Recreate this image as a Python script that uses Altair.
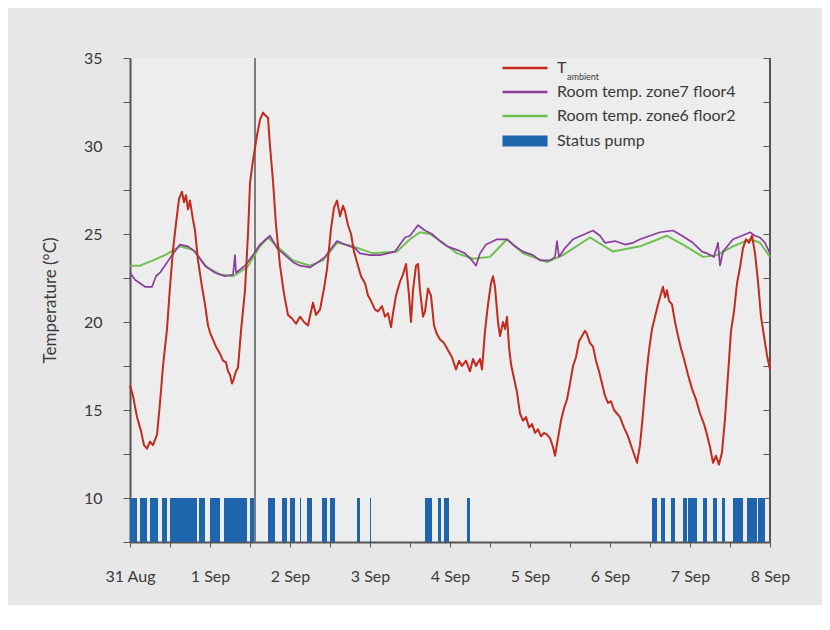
import altair as alt
import pandas as pd

BASE = pd.Timestamp("2012-08-31 00:00")
END = pd.Timestamp("2012-09-08 00:00")

# hours since 31 Aug 00:00 and temperature (°C)
amb_h = [0.0, 0.9, 2.1, 3.3, 4.2, 5.1, 6.0, 6.9, 8.1, 9.0, 9.9, 11.1, 12.0, 12.9, 13.8, 14.7, 15.6, 16.2,
         16.8, 17.4, 18.0, 18.9, 19.5, 20.4, 21.6, 22.5, 23.4, 24.0, 24.9, 25.8, 27.0, 27.9, 28.8, 29.4,
         30.0, 30.6, 31.2, 31.8, 32.4, 33.3, 34.5, 35.4, 36.0, 36.9, 38.1, 39.0, 39.9, 40.8, 41.4, 42.0,
         42.9, 43.8, 45.0, 46.2, 47.4, 48.6, 49.8, 51.0, 52.2, 53.4, 54.3, 54.9, 55.8, 57.0, 58.2, 59.1,
         60.3, 61.2, 62.1, 63.0, 63.9, 64.5, 65.4, 66.3, 67.2, 68.1, 69.3, 70.5, 71.4, 72.3, 73.5, 74.4,
         75.6, 76.5, 77.4, 78.3, 78.9, 79.8, 81.0, 81.9, 82.8, 83.7, 84.3, 84.9, 85.8, 86.4, 87.0, 87.9,
         88.5, 89.4, 90.3, 91.2, 92.1, 93.0, 94.2, 95.4, 96.6, 97.8, 98.7, 99.6, 100.8, 102.0, 102.9,
         103.8, 105.0, 105.6, 106.5, 107.4, 108.3, 108.9, 109.5, 110.4, 111.0, 111.9, 112.5, 113.1, 113.7,
         114.3, 115.2, 116.1, 117.0, 117.9, 118.8, 119.7, 120.6, 121.5, 122.4, 123.3, 124.2, 125.1, 126.0,
         126.9, 127.5, 128.4, 129.3, 130.2, 131.1, 132.0, 132.9, 133.8, 134.7, 135.6, 136.5, 137.1, 138.0,
         138.9, 139.8, 140.7, 141.6, 142.5, 143.4, 144.3, 145.2, 146.1, 147.0, 148.2, 149.4, 150.3, 151.2,
         152.1, 153.0, 153.9, 154.8, 155.7, 156.6, 157.5, 158.4, 159.3, 159.9, 160.5, 161.1, 161.7, 162.6,
         163.5, 164.4, 165.3, 166.2, 167.4, 168.6, 169.8, 171.0, 172.2, 173.1, 174.0, 174.9, 175.8, 176.7,
         177.6, 178.5, 179.4, 180.3, 181.2, 182.1, 183.0, 183.9, 184.8, 185.7, 186.6, 187.5, 188.4, 189.3,
         190.2, 191.1, 192.0]
amb_t = [16.4, 15.8, 14.6, 13.8, 13.0, 12.8, 13.2, 13.0, 13.6, 15.4, 17.5, 19.6, 22.0, 24.1, 25.6, 27.0, 27.4, 26.8,
         27.2, 26.4, 26.9, 25.8, 25.2, 23.5, 22.0, 21.0, 19.8, 19.4, 19.0, 18.6, 18.2, 17.8, 17.7, 17.2,
         17.0, 16.5, 16.8, 17.2, 17.4, 19.5, 21.8, 25.0, 27.9, 29.2, 30.6, 31.5, 31.9, 31.7, 31.6, 30.0,
         28.0, 25.5, 23.2, 21.6, 20.4, 20.2, 19.9, 20.3, 20.0, 19.8, 20.6, 21.1, 20.4, 20.7, 21.9, 23.0,
         25.3, 26.5, 26.9, 26.0, 26.6, 26.3, 25.5, 25.0, 24.0, 23.4, 22.6, 22.2, 21.5, 21.2, 20.7, 20.6,
         20.9, 20.3, 20.5, 19.7, 20.5, 21.5, 22.3, 22.7, 23.3, 21.5, 20.0, 21.8, 23.2, 23.3, 21.8, 20.3,
         20.6, 21.9, 21.5, 19.8, 19.3, 19.0, 18.8, 18.4, 18.0, 17.3, 17.8, 17.5, 17.8, 17.2, 17.9,
         17.5, 17.9, 17.3, 19.5, 21.0, 22.2, 22.6, 22.0, 20.0, 19.2, 20.0, 19.6, 20.3, 18.6,
         17.6, 16.8, 16.0, 14.8, 14.4, 14.6, 14.0, 14.2, 13.7, 13.9, 13.5, 13.7, 13.6, 13.4,
         12.9, 12.4, 13.4, 14.4, 15.1, 15.6, 16.5, 17.5, 18.0, 18.9, 19.2, 19.5, 19.3, 18.8,
         18.6, 17.8, 17.2, 16.5, 15.8, 15.4, 15.5, 15.0, 14.8, 14.6, 14.0, 13.5, 13.0, 12.5,
         12.0, 13.0, 14.8, 16.8, 18.4, 19.6, 20.3, 21.0, 21.6, 22.0, 21.4, 21.8, 21.2, 21.0,
         20.0, 19.2, 18.5, 17.9, 17.0, 16.2, 15.6, 14.8, 14.2, 13.6, 12.9, 12.0, 12.4, 11.9,
         12.6, 14.5, 17.0, 19.5, 20.6, 22.2, 23.1, 24.2, 24.7, 24.5, 24.9, 23.9, 22.3, 20.3,
         19.2, 18.1, 17.3]

z7_h = [0, 1.5, 3, 4.5, 6.6, 7.8, 9, 10.8, 12.6, 15, 17.4, 19.5, 22.5, 25.5, 28.5, 30.9, 31.5, 31.8, 34.5,
        36.9, 39, 42, 44.1, 46.5, 48.9, 51, 54, 56.4, 58.5, 62.1, 64.5, 67.5, 69, 72, 75, 79.5, 82.5, 84,
        86.4, 88.5, 90.6, 93, 95.1, 98.1, 100.5, 102.6, 103.8, 105, 106.8, 108, 110.1, 113.1, 115.5, 117.9,
        120.9, 123, 126, 127.5, 128.1, 128.7, 130.5, 132.9, 136.5, 138.9, 141, 142.5, 145.5, 148.5, 150.9,
        153, 156, 159, 162.9, 165.6, 168.9, 171.6, 173.1, 175.2, 176.4, 177, 177.9, 180.9, 183.6, 186,
        187.5, 189, 190.5, 192]
z7_t = [22.8, 22.4, 22.2, 22.0, 22.0, 22.6, 22.8, 23.3, 23.8, 24.4, 24.3, 24.0, 23.2, 22.8, 22.6, 22.7, 23.8, 22.8, 23.2,
        23.8, 24.4, 24.9, 24.2, 23.8, 23.4, 23.2, 23.1, 23.4, 23.7, 24.6, 24.4, 24.2, 23.9, 23.8, 23.8, 24.0, 24.8, 24.9,
        25.5, 25.2, 25.0, 24.6, 24.3, 24.1, 23.9, 23.5, 23.2, 23.9, 24.4, 24.5, 24.7, 24.7, 24.3, 24.0,
        23.8, 23.5, 23.5, 23.7, 24.6, 23.7, 24.2, 24.7, 25.0, 25.2, 24.9, 24.5, 24.6, 24.4, 24.5,
        24.7, 24.9, 25.1, 25.2, 24.9, 24.5, 24.0, 23.9, 23.7, 24.5, 23.2, 24.0, 24.7, 24.9, 25.1,
        24.9, 24.8, 24.5, 23.9]

z6_h = [0, 3, 6.9, 10.5, 15, 18.9, 23.1, 27, 30.9, 35.1, 39, 41.4, 44.1, 48.9, 54, 57.9, 62.1, 66.9, 72.9,
        80.1, 84, 87, 90, 93.9, 98.1, 102.9, 108, 113.1, 117.9, 125.1, 129.9, 138, 144.9, 153, 161.1,
        165.9, 171.9, 176.1, 180.9, 186, 189, 192]
z6_t = [23.2, 23.2, 23.5, 23.8, 24.3, 24.1, 23.1, 22.7, 22.6, 23.1, 24.3, 24.8, 24.3, 23.5, 23.2, 23.5, 24.5, 24.3, 23.9,
        24.0, 24.7, 25.1, 25.0, 24.5, 23.9, 23.6, 23.7, 24.7, 23.9, 23.4, 23.8, 24.8, 24.0, 24.3, 24.9,
        24.4, 23.7, 23.8, 24.3, 24.7, 24.5, 23.7]

# pump "on" periods, hours since 31 Aug 00:00
pump_start = [0.0, 3.0, 6.0, 9.6, 12.0, 20.7, 24.0, 28.2, 36.0, 41.4, 45.6, 48.0, 51.0, 53.1, 57.6, 60.0,
              68.1, 72.0, 88.5, 92.4, 94.2, 101.1, 156.6, 159.3, 162.3, 165.9, 167.4, 171.9, 174.9, 177.6,
              180.9, 185.1, 188.4]
pump_end = [2.1, 5.1, 8.4, 11.1, 20.1, 22.5, 27.0, 35.1, 37.5, 43.5, 47.1, 49.5, 51.3, 54.6, 59.1, 61.5,
            69.0, 72.3, 90.6, 93.3, 95.7, 102.0, 158.1, 160.5, 163.5, 167.1, 170.1, 173.1, 176.1, 178.5,
            183.9, 188.1, 190.5]

marker_h = 37.5

series_names = ["T_ambient", "Room temp. zone7 floor4", "Room temp. zone6 floor2"]
series_colors = ["#c42a1e", "#8b3d9e", "#6fbf50"]
pump_name = "Status pump"
pump_color = "#1f65ad"

y_ticks = [7.5, 10, 12.5, 15, 17.5, 20, 22.5, 25, 27.5, 30, 32.5, 35]


def ts(hours):
    return [BASE + pd.Timedelta(hours=float(h)) for h in hours]


lines = pd.concat([
    pd.DataFrame({"t": ts(amb_h), "temp": amb_t, "series": series_names[0]}),
    pd.DataFrame({"t": ts(z7_h), "temp": z7_t, "series": series_names[1]}),
    pd.DataFrame({"t": ts(z6_h), "temp": z6_t, "series": series_names[2]}),
], ignore_index=True)

pump = pd.DataFrame({"t": ts(pump_start), "t_end": ts(pump_end), "series": pump_name})
marker = pd.DataFrame({"t": ts([marker_h])})
frame = pd.DataFrame({"t": [END]})

FONT = "Lato"
TXT = "#3a3a3a"

x_values = [alt.DateTime(year=2012, month=8, date=31, hours=12 * i) if i < 2 else
            alt.DateTime(year=2012, month=9, date=1 + (i - 2) // 2, hours=12 * (i % 2)) for i in range(17)]

x_scale = alt.Scale(domain=[alt.DateTime(year=2012, month=8, date=31),
                            alt.DateTime(year=2012, month=9, date=8)])
x_axis = alt.Axis(values=x_values, tickSize=5, tickColor="#555", domainColor="#555", domainWidth=2,
                  labelExpr="hours(datum.value) == 0 ? timeFormat(datum.value, '%-d %b') : ''",
                  labelPadding=21, labelFlush=False, labelOverlap=False, grid=False, title=None)


def X(field="t"):
    return alt.X(f"{field}:T", scale=x_scale, axis=x_axis, title=None)


y_scale = alt.Scale(domain=[7.5, 35], nice=False, zero=False)
left_axis = alt.Axis(
    orient="left", values=y_ticks, tickSize=7, tickColor="#555", domainColor="#555", domainWidth=2,
    labelExpr="datum.value % 5 === 0 ? datum.label : ''", labelPadding=21, labelOverlap=False,
    title="Temperature (°C)", titlePadding=24, titleFontSize=17, titleFontWeight="normal",
    gridColor={"condition": {"test": "datum.value % 5 === 0", "value": "#9c9494"}, "value": "#d6d6d6"},
    gridOpacity={"condition": {"test": "datum.value >= 35 || datum.value <= 7.5", "value": 0}, "value": 1},
)
right_axis = alt.Axis(orient="right", values=y_ticks, tickSize=7, tickColor="#555", domain=False,
                      labels=False, grid=False, title=None, offset=-7)

stroke_enc = alt.Stroke(
    "series:N",
    scale=alt.Scale(domain=series_names, range=series_colors),
    legend=alt.Legend(
        orient="none", legendX=387, legendY=2, title=None, symbolType="M-5,0H5", symbolSize=81,
        symbolStrokeWidth=2.5, labelOffset=24, rowPadding=8, padding=0, labelLimit=0,
        labelExpr="datum.label == 'T_ambient' ? 'T' : datum.label",
    ),
)

pump_layer = alt.Chart(pump).mark_rect(stroke=None).encode(
    x=X("t"), x2="t_end:T",
    y=alt.YDatum(10, type="quantitative", scale=y_scale, axis=None),
    y2=alt.Y2Datum(7.5),
    fill=alt.Fill("series:N", scale=alt.Scale(domain=[pump_name], range=[pump_color]),
                  legend=alt.Legend(orient="none", legendX=387, legendY=75, title=None,
                                    symbolType="M-5,-1.2H5V1.2H-5Z", symbolSize=81, labelLimit=0,
                                    symbolStrokeWidth=0, symbolOpacity=1, labelOffset=24, padding=0)),
)

marker_layer = alt.Chart(marker).mark_rule(color="#7d7d7d", strokeWidth=2).encode(x=X("t"))
frame_layer = alt.Chart(frame).mark_rule(color="#555", strokeWidth=2).encode(x=X("t"))


def line_layer(name, axis, width):
    return alt.Chart(lines).transform_filter(alt.datum.series == name).mark_line(
        strokeWidth=width, strokeJoin="round").encode(
        x=X("t"),
        y=alt.Y("temp:Q", scale=y_scale, axis=axis),
        stroke=stroke_enc,
        order=alt.Order("t:T"),
    )


green = line_layer(series_names[2], left_axis, 2.0)
purple = line_layer(series_names[1], right_axis, 1.7)
red = line_layer(series_names[0], None, 2.0)

sub_text = alt.Chart(pd.DataFrame({"s": ["ambient"]})).mark_text(
    align="left", baseline="middle", font=FONT, fontSize=9, color=TXT
).encode(x=alt.value(437), y=alt.value(18.5), text="s:N")

chart = alt.layer(
    pump_layer, marker_layer, frame_layer, green, purple, red, sub_text
).resolve_axis(y="independent").properties(
    width=640, height=484, autosize="none",
    padding={"left": 122, "top": 50, "right": 52, "bottom": 63},
    background="#e7e7e7",
).configure_view(stroke=None, fill="#ededed").configure_axis(
    labelFont=FONT, labelFontSize=16, labelColor=TXT, titleFont=FONT, titleColor=TXT,
).configure_legend(
    labelFont=FONT, labelFontSize=16, labelColor=TXT,
)

chart.save("out.html", embed_options={"renderer": "svg", "actions": False})
